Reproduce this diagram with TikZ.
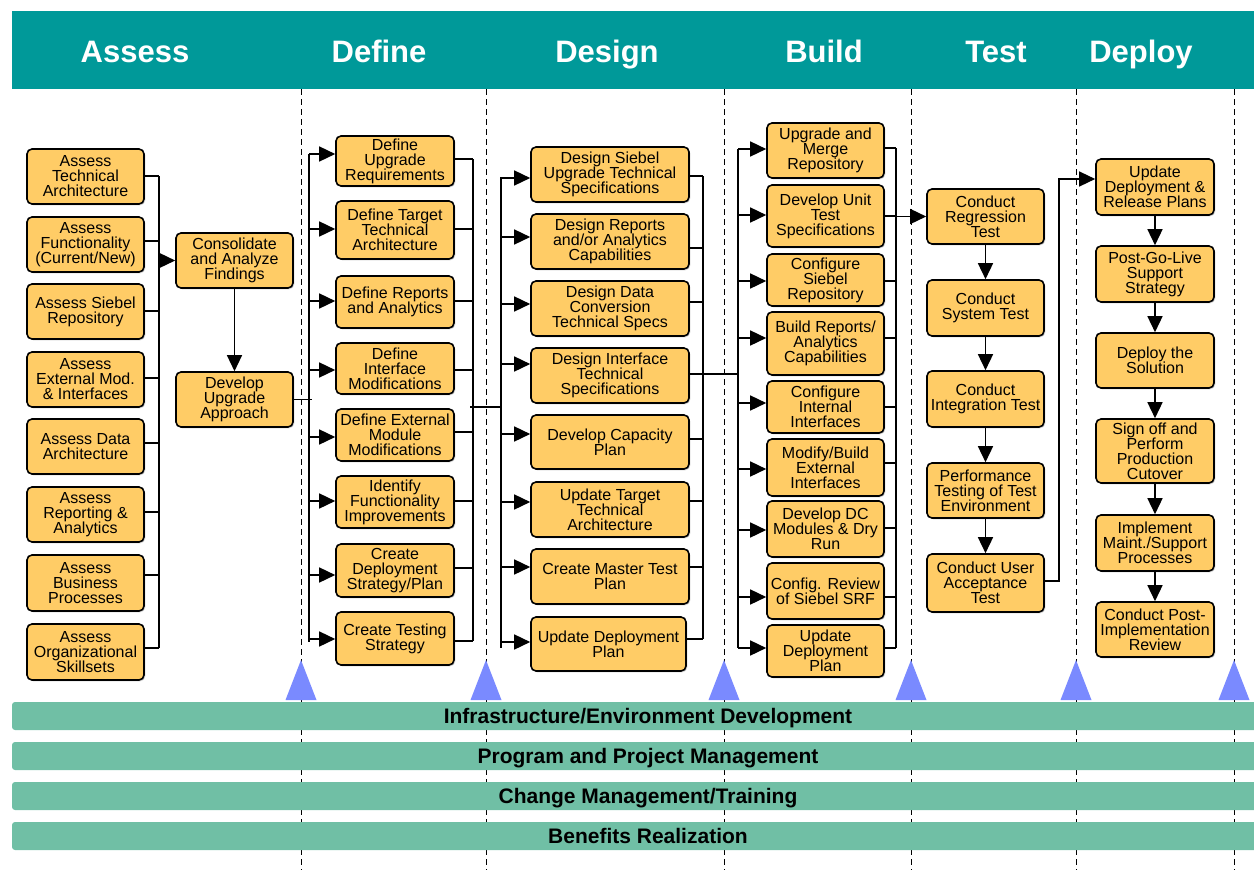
\documentclass[tikz,border=0pt]{standalone}
\usepackage{fontspec}
\setmainfont{Liberation Sans}
\usetikzlibrary{arrows.meta,shadows}
\definecolor{hdr}{RGB}{0,153,153}
\definecolor{bandc}{RGB}{112,191,165}
\definecolor{boxf}{RGB}{255,204,102}
\definecolor{tric}{RGB}{122,138,255}
\tikzset{
  box/.style={draw=black, line width=1.6pt, rounded corners=5pt, fill=boxf, align=center,
    inner sep=0pt, font=\fontsize{16}{15}\selectfont,
    drop shadow={shadow xshift=1.3pt, shadow yshift=-1.3pt, fill=black!35}},
  bus/.style={line width=1.8pt},
  stub/.style={line width=1.6pt},
  arr/.style={line width=1.5pt, -{Triangle[length=16pt,width=15pt]}},
  arrthin/.style={line width=1.3pt, -{Triangle[length=16pt,width=15pt]}},
  phase/.style={font=\fontsize{31}{31}\selectfont\bfseries, text=white, anchor=base, inner sep=0pt},
  bandtxt/.style={font=\fontsize{21}{21}\selectfont\bfseries, anchor=base, inner sep=0pt},
  divider/.style={dash pattern=on 6pt off 4pt, line width=0.9pt},
}
\newcommand\mybox[6]{\node[box, minimum width=#4pt, minimum height=#5pt] (#1) at (#2,#3) {#6};}
\begin{document}
\begin{tikzpicture}[x=1pt,y=-1pt]
\useasboundingbox (0,0) rectangle (1254,870);
% dividers
\foreach \x in {301,486,724,911,1076,1234}{
  \draw[divider] (\x,89) -- (\x,870);
  \fill[tric] (\x-15.5,700) -- (\x,660) -- (\x+15.5,700) -- cycle;
}
% header
\fill[hdr] (12,11) rectangle (1260,89);
\node[phase] (hA) at (135,62) {Assess};
\node[phase] (hDf) at (379,62) {Define};
\node[phase] (hDs) at (607,62) {Design};
\node[phase] (hB) at (824,62) {Build};
\node[phase] (hT) at (996,62) {Test};
\node[phase] (hDp) at (1141,62) {Deploy};
% bands
\fill[bandc, rounded corners=3pt] (12,702) rectangle (1262,730);
\fill[bandc, rounded corners=3pt] (12,742) rectangle (1262,770);
\fill[bandc, rounded corners=3pt] (12,782) rectangle (1262,810);
\fill[bandc, rounded corners=3pt] (12,822) rectangle (1262,850);
\node[bandtxt] (bt1) at (648,723.5) {Infrastructure/Environment Development};
\node[bandtxt] (bt2) at (648,763.5) {Program and Project Management};
\node[bandtxt] (bt3) at (648,803.5) {Change Management/Training};
\node[bandtxt] (bt4) at (648,843) {Benefits Realization};

% Assess
\mybox{a1}{85.5}{176.5}{117}{55}{Assess\\Technical\\Architecture}
\mybox{a2}{85.5}{244.5}{117}{55}{Assess\\Functionality\\(Current/New)}
\mybox{a3}{85.5}{311.5}{117}{55}{Assess Siebel\\Repository}
\mybox{a4}{85.5}{379.5}{117}{55}{Assess\\External Mod.\\\& Interfaces}
\mybox{a5}{85.5}{446.5}{117}{55}{Assess Data\\Architecture}
\mybox{a6}{85.5}{514.5}{117}{55}{Assess\\Reporting \&\\Analytics}
\mybox{a7}{85.5}{583}{117}{56}{Assess\\Business\\Processes}
\mybox{a8}{85.5}{652}{117}{56}{Assess\\Organizational\\Skillsets}
\mybox{cons}{234.5}{260.5}{117}{55}{Consolidate\\and Analyze\\Findings}
\mybox{dev}{234.5}{399.5}{117}{55}{Develop\\Upgrade\\Approach}

% Define
\mybox{d1}{395}{161}{118}{50}{Define\\Upgrade\\Requirements}
\mybox{d2}{395}{230}{118}{58}{Define Target\\Technical\\Architecture}
\mybox{d3}{395}{302}{118}{52}{Define Reports\\and Analytics}
\mybox{d4}{395}{368.5}{118}{51}{Define\\Interface\\Modifications}
\mybox{d5}{395}{435}{118}{52}{Define External\\Module\\Modifications}
\mybox{d6}{395}{502}{118}{52}{Identify\\Functionality\\Improvements}
\mybox{d7}{395}{570.5}{118}{53}{Create\\Deployment\\Strategy/Plan}
\mybox{d8}{395}{638.5}{118}{53}{Create Testing\\Strategy}

% Design
\mybox{g1}{610}{174.5}{158}{55}{Design Siebel\\Upgrade Technical\\Specifications}
\mybox{g2}{610}{241.5}{158}{55}{Design Reports\\and/or Analytics\\Capabilities}
\mybox{g3}{610}{308.5}{158}{55}{Design Data\\Conversion\\Technical Specs}
\mybox{g4}{610}{375.5}{158}{55}{Design Interface\\Technical\\Specifications}
\mybox{g5}{610}{442}{158}{54}{Develop Capacity\\Plan}
\mybox{g6}{610}{509.5}{158}{55}{Update Target\\Technical\\Architecture}
\mybox{g7}{610}{576.5}{158}{55}{Create Master Test\\Plan}
\mybox{g8}{608.5}{644}{155}{54}{Update Deployment\\Plan}

% Build
\mybox{b1}{825.5}{150.5}{117}{55}{Upgrade and\\Merge\\Repository}
\mybox{b2}{825.5}{216}{117}{62}{Develop Unit\\Test\\Specifications}
\mybox{b3}{825.5}{280}{117}{52}{Configure\\Siebel\\Repository}
\mybox{b4}{825.5}{343.5}{117}{63}{Build Reports/\\Analytics\\Capabilities}
\mybox{b5}{825.5}{407}{117}{52}{Configure\\Internal\\Interfaces}
\mybox{b6}{825.5}{467.5}{117}{57}{Modify/Build\\External\\Interfaces}
\mybox{b7}{825.5}{529}{117}{56}{Develop DC\\Modules \& Dry\\Run}
\mybox{b8}{825.5}{591}{117}{56}{Config. Review\\of Siebel SRF}
\mybox{b9}{825.5}{651}{117}{52}{Update\\Deployment\\Plan}

% Test
\mybox{t1}{985.5}{216.5}{117}{55}{Conduct\\Regression\\Test}
\mybox{t2}{985.5}{308}{117}{56}{Conduct\\System Test}
\mybox{t3}{985.5}{399}{117}{56}{Conduct\\Integration Test}
\mybox{t4}{985.5}{490.5}{117}{55}{Performance\\Testing of Test\\Environment}
\mybox{t5}{985.5}{583}{117}{58}{Conduct User\\Acceptance\\Test}

% Deploy
\mybox{p1}{1155}{187}{118}{56}{Update\\Deployment \&\\Release Plans}
\mybox{p2}{1155}{274}{118}{56}{Post-Go-Live\\Support\\Strategy}
\mybox{p3}{1155}{360.5}{118}{55}{Deploy the\\Solution}
\mybox{p4}{1155}{451}{118}{64}{Sign off and\\Perform\\Production\\Cutover}
\mybox{p5}{1155}{543}{118}{56}{Implement\\Maint./Support\\Processes}
\mybox{p6}{1155}{629.5}{118}{55}{Conduct Post-\\Implementation\\Review}

% bus coordinates
\coordinate (aB) at (159,0);
\coordinate (dL) at (309,0);
\coordinate (dLx) at (312,0);
\coordinate (dR) at (473,0);
\coordinate (gL) at (501,0);
\coordinate (gR) at (703,0);
\coordinate (bL) at (738,0);
\coordinate (bR) at (896,0);
\coordinate (tp) at (1059,0);

% Assess connectors
\foreach \i/\s in {1/0.5,2/3.5,3/0.5,4/1.5,5/3.5,6/2.5,7/8,8/4}{
  \path ([yshift=\s pt]a\i.east) coordinate (tmp);
  \draw[stub] (tmp) -- (tmp -| aB);
}
\draw[bus] (159,176) -- (159,648);
\draw[arr] (cons.west -| aB) -- (cons.west);
\draw[arrthin] (cons) -- (dev);
\draw[stub] (dev.east) -- (dev.east -| dLx);

% Define connectors
\draw[bus] (309,154) -- (309,642);
\foreach \i/\s in {1/7,2/1,3/1,4/-1.5,5/-2,6/1,7/-4.5,8/-0.5}{
  \path ([yshift=\s pt]d\i.west) coordinate (tmp);
  \draw[arr] (tmp -| dL) -- (tmp);
}
\foreach \i/\s in {1/2,2/1,3/1,4/-1.5,5/3,6/1,7/2.5,8/-2.5}{
  \path ([yshift=\s pt]d\i.east) coordinate (tmp);
  \draw[stub] (tmp) -- (tmp -| dR);
}
\draw[bus] (473,159) -- (473,641);
\coordinate (dg) at (470,407);
\draw[stub] (dg) -- (dg -| gL);

% Design connectors
\draw[bus] (501,177) -- (501,648);
\foreach \i/\s in {1/-3.5,2/4.5,3/4.5,4/11.5,5/8,6/7.5,7/9.5,8/2}{
  \path ([yshift=\s pt]g\i.west) coordinate (tmp);
  \draw[arr] (tmp -| gL) -- (tmp);
}
\foreach \i/\s in {1/-1.5,2/-6.5,3/6.5,5/3,6/8.5,7/9.5,8/5}{
  \path ([yshift=\s pt]g\i.east) coordinate (tmp);
  \draw[stub] (tmp) -- (tmp -| gR);
}
\draw[bus] (703,176) -- (703,639);
\path ([yshift=1.5pt]g4.east) coordinate (g4e);
\draw[stub] (g4e) -- (g4e -| bL);

% Build connectors
\draw[bus] (738,149) -- (738,648);
\foreach \i/\s in {1/1.5,2/1,3/-1,4/5.5,5/4,6/-1.5,7/-1,8/-6,9/3}{
  \path ([yshift=\s pt]b\i.west) coordinate (tmp);
  \draw[arr] (tmp -| bL) -- (tmp);
}
\foreach \i/\s in {1/2.5,2/0,3/-1,4/5.5,5/0,6/4.5,7/1,8/-6,9/3}{
  \path ([yshift=\s pt]b\i.east) coordinate (tmp);
  \draw[stub] (tmp) -- (tmp -| bR);
}
\draw[bus] (896,148) -- (896,648);
\draw[arr] (t1.west -| bR) -- (t1.west);

% Test connectors
\draw[arr] (t1) -- (t2);
\draw[arr] (t2) -- (t3);
\draw[arr] (t3) -- (t4);
\draw[arr] (t4) -- (t5);
\path ([yshift=2pt]t5.east) coordinate (t5e);
\path ([yshift=8pt]p1.west) coordinate (p1w);
\draw[arrthin] (t5e) -| (p1w -| tp) -- (p1w);

% Deploy connectors
\draw[arr] (p1) -- (p2);
\draw[arr] (p2) -- (p3);
\draw[arr] (p3) -- (p4);
\draw[arr] (p4) -- (p5);
\draw[arr] (p5) -- (p6);
\end{tikzpicture}
\end{document}
